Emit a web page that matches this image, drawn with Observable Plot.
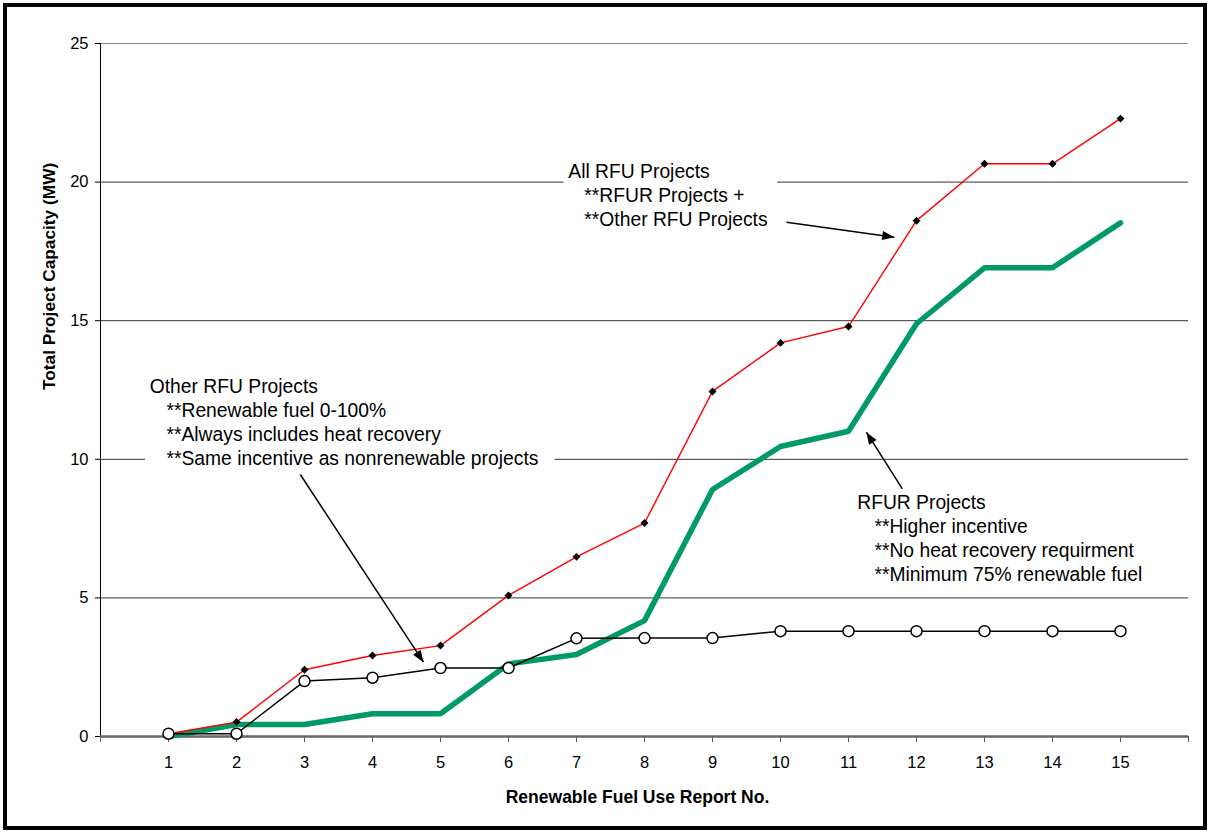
<!DOCTYPE html>
<html><head><meta charset="utf-8">
<script src="https://cdn.jsdelivr.net/npm/d3@7"></script>
<script src="https://cdn.jsdelivr.net/npm/@observablehq/plot@0.6"></script>
<style>
html,body{margin:0;padding:0;background:#fff;}
#wrap{position:relative;width:1209px;height:832px;overflow:hidden;background:#fff;}
#frame{position:absolute;left:3px;top:3px;width:1204px;height:827px;box-sizing:border-box;border:4px solid #000;pointer-events:none;}
#wrap svg{position:absolute;left:0;top:0;}
</style></head><body><div id="wrap"></div>
<script>
// ---- data ----
const reports = [1,2,3,4,5,6,7,8,9,10,11,12,13,14,15];
const allRFU   = [0.10,0.52,2.41,2.92,3.28,5.09,6.48,7.70,12.45,14.20,14.79,18.61,20.66,20.66,22.29];
const rfur     = [0.00,0.43,0.43,0.82,0.82,2.62,2.96,4.18,8.91,10.46,11.01,14.89,16.91,16.91,18.53];
const otherRFU = [0.10,0.10,2.00,2.12,2.47,2.47,3.54,3.55,3.55,3.80,3.80,3.80,3.80,3.80,3.80];
const yTicks = [0,5,10,15,20,25];
const xTicks = [0,1,2,3,4,5,6,7,8,9,10,11,12,13,14,15,16];
const noteAll = ["All RFU Projects", "**RFUR Projects +", "**Other RFU Projects"];
const noteOther = ["Other RFU Projects", "**Renewable fuel 0-100%", "**Always includes heat recovery", "**Same incentive as nonrenewable projects"];
const noteRfur = ["RFUR Projects", "**Higher incentive", "**No heat recovery requirment", "**Minimum 75% renewable fuel"];
const xTitle = "Renewable Fuel Use Report No.";
const yTitle = "Total Project Capacity (MW)";

const rows = arr => reports.map((r, i) => ({r, v: arr[i]}));
const FONT = '"Liberation Sans", Arial, sans-serif';
const LH = 24 / 27.72; // one text line in y units

function arrowHeads(index, scales, values, dims, ctx, next) {
  const g = next(index, scales, values, dims, ctx);
  for (const i of index) {
    const x1 = values.x1[i], y1 = values.y1[i], x2 = values.x2[i], y2 = values.y2[i];
    const a = Math.atan2(y2 - y1, x2 - x1);
    const L = 12, W = 4.5;
    const bx = x2 - L * Math.cos(a), by = y2 - L * Math.sin(a);
    const px = -Math.sin(a) * W, py = Math.cos(a) * W;
    const p = document.createElementNS("http://www.w3.org/2000/svg", "path");
    p.setAttribute("d", `M${x2},${y2}L${bx + px},${by + py}L${bx - px},${by - py}Z`);
    p.setAttribute("fill", "black");
    p.setAttribute("stroke", "none");
    g.appendChild(p);
  }
  return g;
}

function note(lines, x0, xIndent, yTop) {
  return Plot.text(lines, {
    x: (d, i) => i === 0 ? x0 : xIndent,
    y: (d, i) => yTop - i * LH,
    text: d => d,
    textAnchor: "start",
    fontSize: 19.3,
    fill: "black"
  });
}

const chart = Plot.plot({
  width: 1209,
  height: 832,
  marginLeft: 100,
  marginRight: 21,
  marginTop: 43,
  marginBottom: 96,
  style: {fontFamily: FONT, fontSize: "16px", color: "black", background: "transparent", overflow: "visible"},
  x: {domain: [0, 16], axis: null},
  y: {domain: [0, 25], axis: null},
  marks: [
    // gridlines
    Plot.ruleY(yTicks.filter(d => d > 0 && d < 25), {x1: 0, x2: 16, stroke: "#333", strokeWidth: 1}),
    Plot.ruleY([25], {x1: 0, x2: 16, stroke: "#888", strokeWidth: 1.2}),
    // white text boxes
    Plot.rect([0], {x1: 6.817, x2: 9.96, y1: 18.25, y2: 20.85, fill: "white"}),
    Plot.rect([0], {x1: 0.661, x2: 6.684, y1: 9.6, y2: 13.1, fill: "white"}),
    // axes
    Plot.axisY({ticks: yTicks, tickSize: 5, tickPadding: 7, fontSize: 16.5, label: null, stroke: "black"}),
    Plot.axisX({ticks: xTicks, tickFormat: d => (d >= 1 && d <= 15) ? String(d) : "", tickSize: 6, tickPadding: 14, fontSize: 16.5, label: null, stroke: "#555"}),
    Plot.ruleX([0], {y1: 0, y2: 25, stroke: "black", strokeWidth: 1}),
    Plot.ruleY([0], {x1: 0, x2: 16, stroke: "#666", strokeWidth: 2.5}),
    // series
    Plot.line(rows(rfur), {x: "r", y: "v", stroke: "#009A63", strokeWidth: 5.5, strokeLinejoin: "miter"}),
    Plot.line(rows(allRFU), {x: "r", y: "v", stroke: "#FF0000", strokeWidth: 1.4}),
    Plot.dot(rows(allRFU), {x: "r", y: "v", symbol: "diamond2", r: 3.6, fill: "black"}),
    Plot.line(rows(otherRFU), {x: "r", y: "v", stroke: "black", strokeWidth: 1.5}),
    Plot.dot(rows(otherRFU), {x: "r", y: "v", r: 5.5, fill: "white", stroke: "black", strokeWidth: 1.5}),
    // annotations
    note(noteAll, 6.88, 7.115, 20.38),
    note(noteOther, 0.724, 0.97, 12.626),
    note(noteRfur, 11.128, 11.381, 8.442),
    Plot.link([
      {x1: 10.088, y1: 18.553, x2: 11.673, y2: 18.012},
      {x1: 2.938, y1: 9.452, x2: 4.75, y2: 2.68},
      {x1: 11.792, y1: 8.936, x2: 11.263, y2: 10.978}
    ], {x1: "x1", y1: "y1", x2: "x2", y2: "y2", stroke: "black", strokeWidth: 1.5, render: arrowHeads}),
    // axis titles
    Plot.text([xTitle], {frameAnchor: "bottom", dx: -7, dy: 66, text: d => d, fontSize: 17.5, fontWeight: "bold", fill: "black"}),
    Plot.text([yTitle], {frameAnchor: "left", dx: -51, rotate: -90, text: d => d, fontSize: 17.3, fontWeight: "bold", fill: "black"})
  ]
});

const wrap = document.getElementById("wrap");
wrap.appendChild(chart);
const frame = document.createElement("div");
frame.id = "frame";
wrap.appendChild(frame);
</script>
</body></html>
